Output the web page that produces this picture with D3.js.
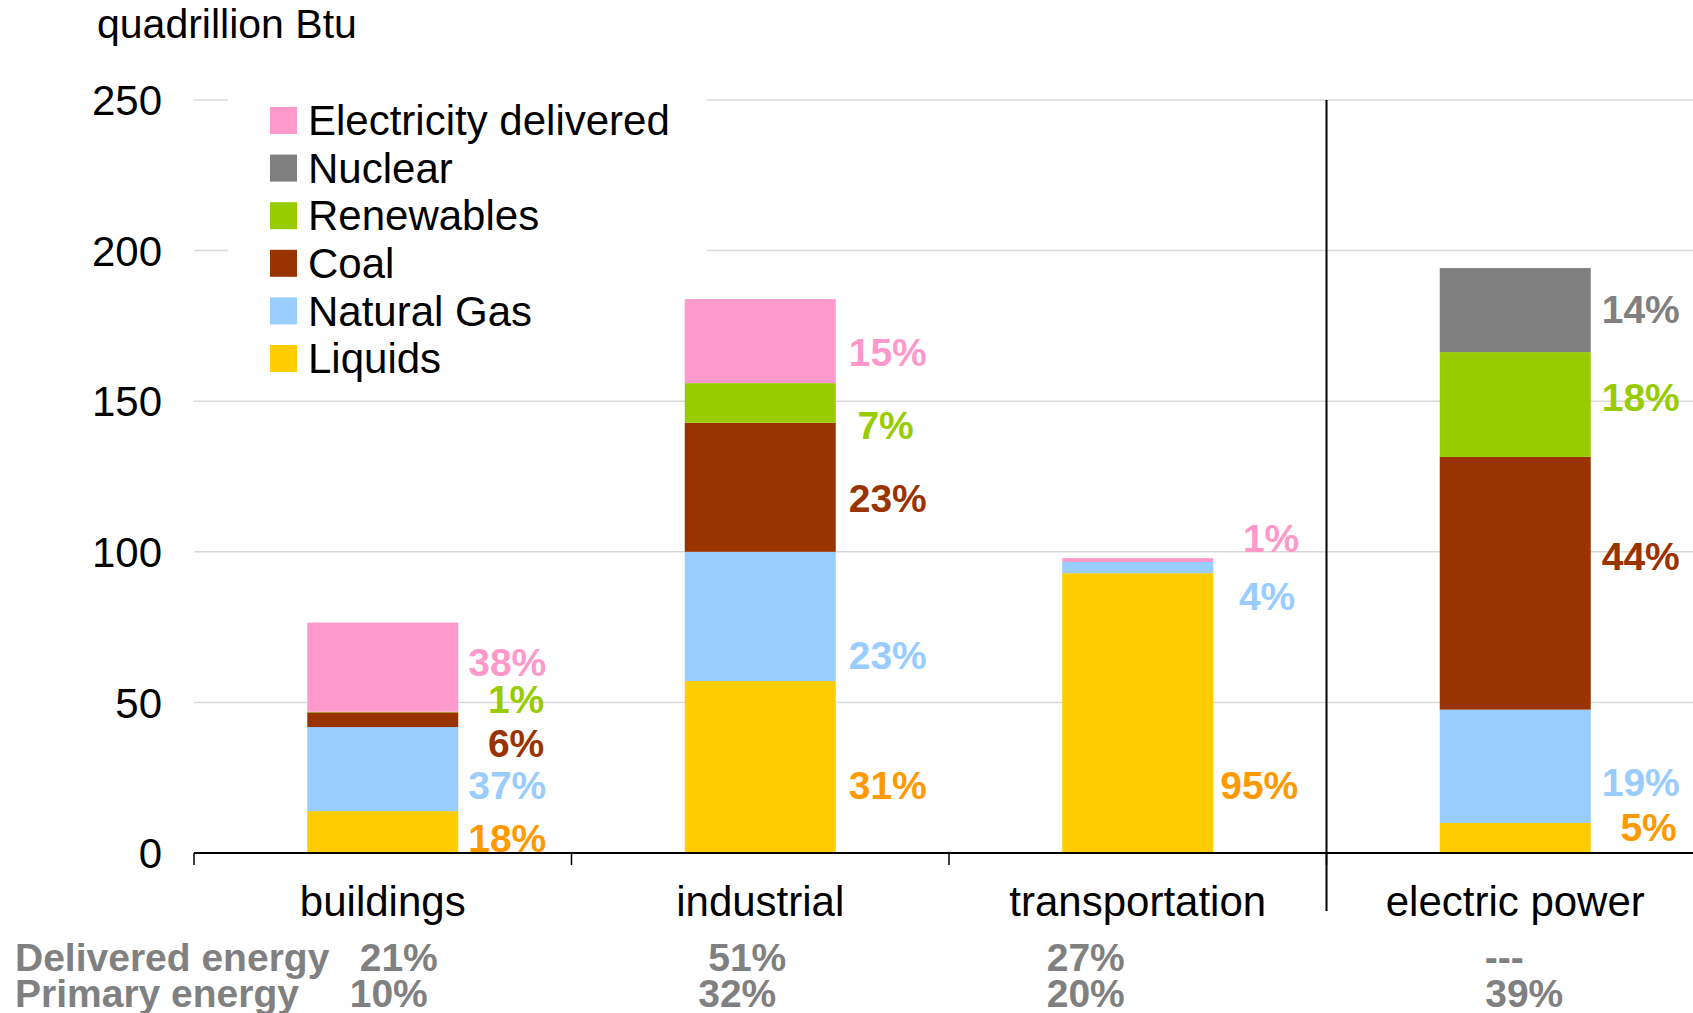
<!DOCTYPE html>
<html>
<head>
<meta charset="utf-8">
<script src="https://cdn.jsdelivr.net/npm/d3@7"></script>
<style>
  body { margin: 0; background: #fff; }
  svg { display: block; font-family: "Liberation Sans", Arial, sans-serif; }
</style>
</head>
<body>
<div id="chart"></div>
<script>
// Data

const sectors = ['buildings', 'industrial', 'transportation', 'electric power'];
const fuels = ['Liquids', 'Natural Gas', 'Coal', 'Renewables', 'Nuclear', 'Electricity delivered'];

// quadrillion Btu, one value per sector
const liquids = [13.9, 57.1, 92.9, 10.0];
const naturalGas = [27.9, 42.9, 3.7, 37.6];
const coal = [4.9, 42.8, 0, 83.9];
const renewables = [0.2, 13.2, 0, 34.8];
const nuclear = [0, 0, 0, 27.9];
const electricity = [29.6, 27.9, 1.3, 0];

// share labels beside each segment (same order as fuels)
const shareLabels = [
  ['18%', '37%', '6%', '1%', null, '38%'],
  ['31%', '23%', '23%', '7%', null, '15%'],
  ['95%', '4%', null, null, null, '1%'],
  ['5%', '19%', '44%', '18%', '14%', null]
];

const deliveredShare = ['21%', '51%', '27%', '---'];
const primaryShare = ['10%', '32%', '20%', '39%'];
const yTicks = [0, 50, 100, 150, 200, 250];

// Layout

const width = 1693;
const height = 1013;
const plotLeft = 194, plotRight = 1704, plotTop = 100, plotBottom = 853;

const colors = {
  'Liquids': '#FFCC00',
  'Natural Gas': '#99CCFF',
  'Coal': '#993300',
  'Renewables': '#99CC00',
  'Nuclear': '#808080',
  'Electricity delivered': '#FF99CC'
};
const labelColors = Object.assign({}, colors, { 'Liquids': '#FF9900' });

// manual nudges (px) that keep the share labels apart, like the original
const labelNudge = [
  [6, 16, 23, -13, 0, -5],
  [18, 39, 11, 22, 0, 11],
  [72, 28, 0, 0, 0, -22],
  [-11, 16, -27, -8, -1, 0]
];
const labelGap = [88, 91, 85, 89];
const labelDx = [
  [0, 0, -2, -2, 0, 0],
  [0, 0, 0, -13, 0, 0],
  [0, -3, 0, 0, 0, 1],
  [-3, 0, 0, 0, 0, 0]
];
const deliveredDx = [16, -13, -52, -11];
const primaryDx = [6, -23, -52, 9];

const svg = d3.select('#chart')
  .append('svg')
  .attr('width', width)
  .attr('height', height);

const x = d3.scaleBand()
  .domain(sectors)
  .range([plotLeft, plotRight])
  .paddingInner(0.6)
  .paddingOuter(0.3);

const y = d3.scaleLinear()
  .domain([0, 250])
  .range([plotBottom, plotTop]);

// build table for the stack
const series = { 'Liquids': liquids, 'Natural Gas': naturalGas, 'Coal': coal,
  'Renewables': renewables, 'Nuclear': nuclear, 'Electricity delivered': electricity };
const table = sectors.map((s, i) => {
  const row = { sector: s, index: i };
  fuels.forEach(f => { row[f] = series[f][i]; });
  return row;
});
const stacked = d3.stack().keys(fuels)(table);

// Gridlines
svg.append('g')
  .selectAll('line')
  .data(yTicks.filter(d => d > 0))
  .enter().append('line')
  .attr('x1', plotLeft)
  .attr('x2', plotRight)
  .attr('y1', d => y(d))
  .attr('y2', d => y(d))
  .attr('stroke', '#D9D9D9')
  .attr('stroke-width', 1.5);

// Legend background (white box hides the gridlines behind it)
svg.append('rect')
  .attr('x', 228)
  .attr('y', 86)
  .attr('width', 479)
  .attr('height', 300)
  .attr('fill', '#fff');

// Y tick labels
svg.append('g')
  .selectAll('text')
  .data(yTicks)
  .enter().append('text')
  .attr('x', 162)
  .attr('y', d => y(d))
  .attr('dy', '0.36em')
  .attr('text-anchor', 'end')
  .attr('font-size', 42)
  .text(d => d);

svg.append('text')
  .attr('x', 97)
  .attr('y', 38)
  .attr('font-size', 41)
  .text('quadrillion Btu');

// Bars
svg.append('g')
  .selectAll('g')
  .data(stacked)
  .enter().append('g')
  .attr('fill', d => colors[d.key])
  .selectAll('rect')
  .data(d => d)
  .enter().append('rect')
  .attr('x', d => x(d.data.sector))
  .attr('width', x.bandwidth())
  .attr('y', d => y(d[1]))
  .attr('height', d => y(d[0]) - y(d[1]));

// Share labels
const labelData = [];
stacked.forEach((layer, k) => {
  layer.forEach((d, i) => {
    const txt = shareLabels[i][k];
    if (txt) labelData.push({ fuel: layer.key, i: i, k: k, mid: (d[0] + d[1]) / 2, text: txt, sector: d.data.sector });
  });
});

svg.append('g')
  .selectAll('text')
  .data(labelData)
  .enter().append('text')
  .attr('x', d => x(d.sector) + x.bandwidth() + labelGap[d.i] + labelDx[d.i][d.k])
  .attr('y', d => y(d.mid) + labelNudge[d.i][d.k])
  .attr('dy', '0.36em')
  .attr('text-anchor', 'end')
  .attr('font-size', 39)
  .attr('font-weight', 'bold')
  .attr('fill', d => labelColors[d.fuel])
  .text(d => d.text);

// X axis line and ticks
svg.append('line')
  .attr('x1', plotLeft)
  .attr('x2', plotRight)
  .attr('y1', plotBottom)
  .attr('y2', plotBottom)
  .attr('stroke', '#000')
  .attr('stroke-width', 2);

svg.append('g')
  .selectAll('line')
  .data(d3.range(sectors.length + 1))
  .enter().append('line')
  .attr('x1', i => plotLeft + i * x.step())
  .attr('x2', i => plotLeft + i * x.step())
  .attr('y1', plotBottom)
  .attr('y2', plotBottom + 12)
  .attr('stroke', '#000')
  .attr('stroke-width', 1.5);

// divider between end-use sectors and electric power
svg.append('line')
  .attr('x1', plotLeft + 3 * x.step())
  .attr('x2', plotLeft + 3 * x.step())
  .attr('y1', plotTop)
  .attr('y2', 911)
  .attr('stroke', '#000')
  .attr('stroke-width', 2);

// Category labels
svg.append('g')
  .selectAll('text')
  .data(sectors)
  .enter().append('text')
  .attr('x', d => x(d) + x.bandwidth() / 2)
  .attr('y', 916)
  .attr('text-anchor', 'middle')
  .attr('font-size', 42)
  .text(d => d);

// Bottom share table
const tableG = svg.append('g')
  .attr('font-size', 39)
  .attr('font-weight', 'bold')
  .attr('fill', '#808080');

tableG.append('text').attr('x', 15).attr('y', 971).text('Delivered energy');
tableG.append('text').attr('x', 15).attr('y', 1007).text('Primary energy');

tableG.selectAll('.delivered')
  .data(deliveredShare)
  .enter().append('text')
  .attr('class', 'delivered')
  .attr('x', (d, i) => x(sectors[i]) + x.bandwidth() / 2 + deliveredDx[i])
  .attr('y', 971)
  .attr('text-anchor', 'middle')
  .text(d => d);

tableG.selectAll('.primary')
  .data(primaryShare)
  .enter().append('text')
  .attr('class', 'primary')
  .attr('x', (d, i) => x(sectors[i]) + x.bandwidth() / 2 + primaryDx[i])
  .attr('y', 1007)
  .attr('text-anchor', 'middle')
  .text(d => d);

// Legend
const legendItems = fuels.slice().reverse();

const item = svg.append('g')
  .selectAll('g')
  .data(legendItems)
  .enter().append('g')
  .attr('transform', (d, i) => `translate(270, ${120 + i * 47.6})`);

item.append('rect')
  .attr('x', 0)
  .attr('y', -13)
  .attr('width', 27)
  .attr('height', 27)
  .attr('fill', d => colors[d]);

item.append('text')
  .attr('x', 38)
  .attr('y', 0)
  .attr('dy', '0.36em')
  .attr('font-size', 42)
  .text(d => d);
</script>
</body>
</html>
